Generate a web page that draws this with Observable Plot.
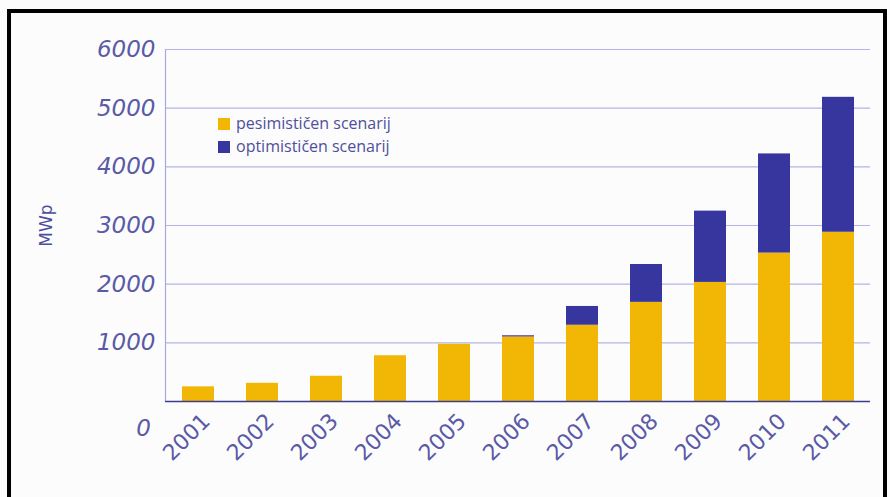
<!DOCTYPE html>
<html>
<head>
<meta charset="utf-8">
<script src="https://cdn.jsdelivr.net/npm/d3@7"></script>
<script src="https://cdn.jsdelivr.net/npm/@observablehq/plot@0.6"></script>
<style>
  body { margin: 0; background: #fff; overflow: hidden; }
  #wrap { position: relative; width: 890px; height: 497px; background: #fcfcfc; }
  #border { position: absolute; left: 7px; top: 9px; width: 872px; height: 520px; border: 4px solid #000; box-sizing: content-box; pointer-events: none; }
  #legend { position: absolute; left: 218px; top: 112px; font-family: "Open Sans", sans-serif; font-size: 16px; color: #4f4f9c; line-height: 23px; }
  #legend .sw { display: inline-block; width: 12px; height: 12px; margin-right: 6px; vertical-align: -1px; }
</style>
</head>
<body>
<div id="wrap">
  <div id="chart"></div>
  <div id="legend"></div>
  <div id="border"></div>
</div>
<script>
const years = ["2001","2002","2003","2004","2005","2006","2007","2008","2009","2010","2011"];
const pesimisticen = [250, 310, 430, 780, 975, 1100, 1300, 1690, 2030, 2530, 2885];
const optimisticenTotal = [250, 310, 430, 780, 975, 1120, 1620, 2335, 3245, 4220, 5185];
const seriesNames = ["pesimističen scenarij", "optimističen scenarij"];
const seriesColors = ["#f2b705", "#37359e"];
const yTicks = [1000, 2000, 3000, 4000, 5000, 6000];

const rows = [];
years.forEach((y, i) => {
  rows.push({year: y, series: seriesNames[0], value: pesimisticen[i]});
  rows.push({year: y, series: seriesNames[1], value: optimisticenTotal[i] - pesimisticen[i]});
});

const textColor = "#5a5aa6";

const plot = Plot.plot({
  width: 890,
  height: 497,
  marginLeft: 165,
  marginRight: 20,
  marginTop: 49,
  marginBottom: 96,
  style: {background: "transparent", fontFamily: "DejaVu Sans, sans-serif"},
  x: {domain: years, paddingInner: 0.5, paddingOuter: 0.25, align: 0.5},
  y: {domain: [0, 6000]},
  color: {domain: seriesNames, range: seriesColors},
  marks: [
    Plot.ruleY(yTicks, {stroke: "#b4b4e4", strokeWidth: 1.2}),
    Plot.frame({anchor: "left", stroke: "#a8a8de", strokeWidth: 1.2}),
    Plot.barY(rows, {x: "year", y: "value", fill: "series", order: seriesNames}),
    Plot.ruleY([0], {stroke: "#3c3c8c", strokeWidth: 1.6}),
    Plot.axisY(yTicks, {
      tickSize: 0, tickPadding: 10, fontSize: 23, fontStyle: "italic",
      fill: textColor, tickFormat: d => String(d),
      label: "MWp", labelAnchor: "center", labelArrow: "none", labelOffset: 126
    }),
    Plot.text([0], {y: d => d, frameAnchor: "left", dx: -22, dy: 27, text: d => String(d),
      fontSize: 23, fontStyle: "italic", fill: textColor, textAnchor: "middle"}),
    Plot.axisX({tickSize: 0, tickRotate: -45, tickPadding: 16, dx: 8, fontSize: 22, fill: textColor, label: null})
  ]
});
document.getElementById("chart").appendChild(plot);

plot.querySelectorAll("[aria-label='y-axis label'] text, [aria-label='y-axis label']").forEach(el => {
  el.setAttribute("font-size", "17");
  el.setAttribute("font-style", "normal");
  el.setAttribute("fill", "#4c4ca0");
});

const legend = document.getElementById("legend");
seriesNames.forEach((name, i) => {
  const row = document.createElement("div");
  const sw = document.createElement("span");
  sw.className = "sw";
  sw.style.background = seriesColors[i];
  row.appendChild(sw);
  row.appendChild(document.createTextNode(name));
  legend.appendChild(row);
});
</script>
</body>
</html>
